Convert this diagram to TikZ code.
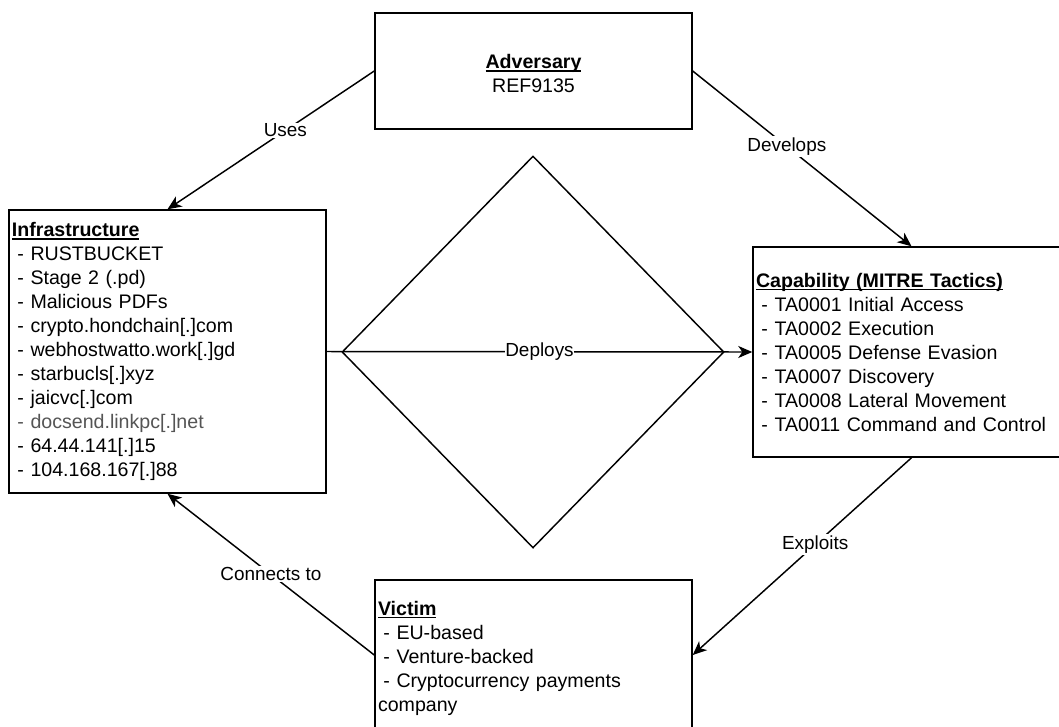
\documentclass[tikz,border=0pt]{standalone}
\usepackage{fontspec}
\setmainfont{Liberation Sans}
\usetikzlibrary{arrows.meta,shapes.geometric}
\definecolor{dimtext}{HTML}{555555}
\newcommand{\dashitem}[1]{\hspace*{.278em}- #1}
\newcommand{\headline}[1]{\setbox0\hbox{\textbf{#1}}\rlap{\rule[-2.3pt]{\wd0}{0.9pt}}\box0}
\begin{document}
\begin{tikzpicture}[x=0.75pt,y=-0.75pt,
  box/.style={draw, line width=1.1pt, rectangle, minimum width=237.75pt,
    text width=233.25pt, inner xsep=2.25pt, inner ysep=0pt, align=left,
    font=\fontsize{14.7}{18}\selectfont},
  boxtext/.style={inner sep=0pt, align=left, text width=233.25pt,
    font=\fontsize{14.7}{18}\selectfont},
  conn/.style={draw, line width=1.1pt, -{Stealth[length=10.5pt,width=9pt,inset=3pt]}},
  lbl/.style={fill=white, inner sep=1pt, font=\fontsize{14.2}{17}\selectfont}]
\useasboundingbox (0,0) rectangle (1059,726);
\node[diamond, draw, line width=1.1pt, inner sep=0pt, minimum width=286.5pt, minimum height=294pt] (dia) at (533,352) {};
\node[box, minimum height=87pt] (adv) at (533.5,71) {};
\node[boxtext, align=center] (advtext) at (533.5,73.5)
  {\headline{Adversary}\\REF9135};
\node[box, minimum height=212.25pt] (infra) at (167.5,351.5)
  {\headline{Infrastructure}\\
   \dashitem{RUSTBUCKET}\\
   \dashitem{Stage 2 (.pd)}\\
   \dashitem{Malicious PDFs}\\
   \dashitem{crypto.hondchain[.]com}\\
   \dashitem{webhostwatto.work[.]gd}\\
   \dashitem{starbucls[.]xyz}\\
   \dashitem{jaicvc[.]com}\\
   {\color{dimtext}\dashitem{docsend.linkpc[.]net}}\\
   \dashitem{64.44.141[.]15}\\
   \dashitem{104.168.167[.]88}};
\node[box, minimum height=157.5pt] (cap) at (911.5,352)
  {\headline{Capability (MITRE Tactics)}\\
   \dashitem{TA0001 Initial Access}\\
   \dashitem{TA0002 Execution}\\
   \dashitem{TA0005 Defense Evasion}\\
   \dashitem{TA0007 Discovery}\\
   \dashitem{TA0008 Lateral Movement}\\
   \dashitem{TA0011 Command and Control}};
\node[box, minimum height=112.5pt] (vic) at (533.5,655) {};
\node[boxtext] (victext) at (533.5,658)
  {\headline{Victim}\\
   \dashitem{EU-based}\\
   \dashitem{Venture-backed}\\
   \dashitem{Cryptocurrency payments}\\
   company};
\draw[conn] (adv.west) -- node[lbl, pos=0.43] (luses) {Uses} (infra.north);
\draw[conn] (adv.east) -- node[lbl, pos=0.43] (ldev) {Develops} (cap.north);
\draw[conn] (infra.east) -- node[lbl, pos=0.5, inner sep=0.5pt] (ldep) {Deploys} (cap.west);
\draw[conn] (cap.south) -- node[lbl, pos=0.44] (lexp) {Exploits} (vic.east);
\draw[conn] (vic.west) -- node[lbl, pos=0.5] (lcon) {Connects to} (infra.south);
\end{tikzpicture}
\end{document}
